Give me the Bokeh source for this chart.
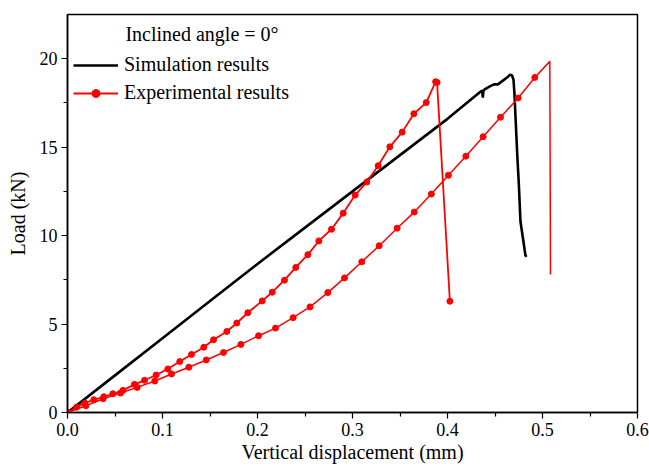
from bokeh.plotting import figure
from bokeh.models import (Legend, LegendItem, FixedTicker, NumeralTickFormatter,
                          Range1d, Label)
from bokeh.embed import file_html
from bokeh.resources import INLINE

FONT = "Liberation Serif"

# Simulation results
sim_x = [0.0, 0.05, 0.10, 0.15, 0.20, 0.25, 0.30, 0.35, 0.40, 0.434, 0.4365,
         0.4372, 0.4378, 0.440, 0.445, 0.449, 0.453, 0.458, 0.463, 0.466,
         0.468, 0.4695, 0.4705, 0.4716, 0.4735, 0.4751, 0.4768, 0.4797,
         0.482, 0.483]
sim_y = [0.0, 2.1, 4.2, 6.3, 8.4, 10.45, 12.5, 14.55, 16.6, 18.1, 18.2,
         17.8, 18.2, 18.3, 18.45, 18.55, 18.55, 18.75, 18.95, 19.1,
         19.05, 18.8, 18.0, 16.7, 14.5, 12.9, 10.8, 9.75, 8.9, 8.8]

# Experimental results, specimen A
expA_x = [0.0, 0.0095, 0.0182, 0.0277, 0.0382, 0.0477, 0.0583, 0.0705, 0.0811,
          0.0933, 0.1056, 0.1182, 0.1305, 0.1435, 0.1537, 0.1677, 0.1782,
          0.1898, 0.205, 0.2155, 0.2284, 0.2403, 0.2530, 0.2646, 0.2779,
          0.2902, 0.3028, 0.3151, 0.3270, 0.3393, 0.3523, 0.3646, 0.3776,
          0.3875, 0.3890, 0.4025]
expA_y = [0.0, 0.30, 0.53, 0.72, 0.89, 1.06, 1.25, 1.59, 1.82,
          2.12, 2.46, 2.88, 3.28, 3.69, 4.11, 4.58, 5.06,
          5.64, 6.31, 6.80, 7.48, 8.20, 8.92, 9.70, 10.36,
          11.27, 12.29, 13.03, 13.95, 15.02, 15.85, 16.89, 17.52,
          18.70, 18.66, 6.29]

# Experimental results, specimen B
expB_x = [0.0, 0.0193, 0.0375, 0.0558, 0.0733, 0.0919, 0.1095, 0.1277, 0.146,
          0.1642, 0.1825, 0.2011, 0.219, 0.2375, 0.2553, 0.274, 0.2916,
          0.3098, 0.3281, 0.347, 0.365, 0.383, 0.401, 0.4193, 0.4375,
          0.4558, 0.4744, 0.4919, 0.5077, 0.5084]
expB_y = [0.0, 0.38, 0.78, 1.10, 1.42, 1.78, 2.18, 2.56, 2.97,
          3.39, 3.85, 4.34, 4.77, 5.36, 5.97, 6.78, 7.61,
          8.52, 9.43, 10.42, 11.33, 12.35, 13.41, 14.49, 15.59,
          16.69, 17.78, 18.94, 19.85, 7.80]

x_ticks = [0.0, 0.1, 0.2, 0.3, 0.4, 0.5, 0.6]
x_minor = [0.05, 0.15, 0.25, 0.35, 0.45, 0.55]
y_ticks = [0, 5, 10, 15, 20]
y_minor = [2.5, 7.5, 12.5, 17.5]

p = figure(width=649, height=468, output_backend="svg", toolbar_location=None,
           x_range=Range1d(0, 0.6), y_range=Range1d(0, 22.5),
           min_border_left=67, min_border_right=12, min_border_top=14,
           min_border_bottom=56)
p.grid.visible = False
p.outline_line_color = "black"
p.outline_line_width = 1.5
p.background_fill_color = "white"
p.border_fill_color = "white"

sim = p.line(sim_x, sim_y, line_color="black", line_width=2.6)
la = p.line(expA_x, expA_y, line_color="#ff0000", line_width=1.8)
sa = p.scatter(expA_x, expA_y, size=6, color="#ff0000")
lb = p.line(expB_x, expB_y, line_color="#ff0000", line_width=1.5)
sb = p.scatter(expB_x[:-2], expB_y[:-2], size=6, color="#ff0000")

for ax in (p.xaxis[0], p.yaxis[0]):
    ax.axis_line_color = "black"
    ax.axis_line_width = 1.5
    ax.major_tick_line_color = "black"
    ax.minor_tick_line_color = "black"
    ax.major_tick_line_width = 1.2
    ax.minor_tick_line_width = 1.2
    ax.major_tick_in = 0
    ax.major_tick_out = 6
    ax.minor_tick_in = 0
    ax.minor_tick_out = 4
    ax.major_label_text_font = FONT
    ax.major_label_text_font_size = "18px"
    ax.major_label_text_color = "black"
    ax.axis_label_text_font = FONT
    ax.axis_label_text_font_size = "20px"
    ax.axis_label_text_font_style = "normal"
    ax.axis_label_text_color = "black"

p.xaxis[0].ticker = FixedTicker(ticks=x_ticks, minor_ticks=x_minor)
p.xaxis[0].formatter = NumeralTickFormatter(format="0.0")
p.yaxis[0].ticker = FixedTicker(ticks=y_ticks, minor_ticks=y_minor)
p.xaxis[0].axis_label = "Vertical displacement (mm)"
p.yaxis[0].axis_label = "Load (kN)"
p.xaxis[0].major_label_standoff = 4
p.xaxis[0].axis_label_standoff = 2
p.yaxis[0].major_label_standoff = 4
p.yaxis[0].axis_label_standoff = 8

legend = Legend(items=[LegendItem(label="Simulation results", renderers=[sim]),
                       LegendItem(label="Experimental results", renderers=[la, sa])],
                location=(6, 308), padding=0, margin=0, spacing=5,
                glyph_width=45, glyph_height=20, label_height=20,
                label_standoff=6, label_text_font=FONT,
                label_text_font_size="20px", label_text_color="black",
                border_line_color=None, background_fill_alpha=0)
p.add_layout(legend)

title = Label(x=0.061, y=21.42, text="Inclined angle = 0\u00b0",
              text_font=FONT, text_font_size="20px", text_color="black",
              text_baseline="middle", text_align="left")
p.add_layout(title)

open("out.html", "w").write(file_html(p, INLINE))
